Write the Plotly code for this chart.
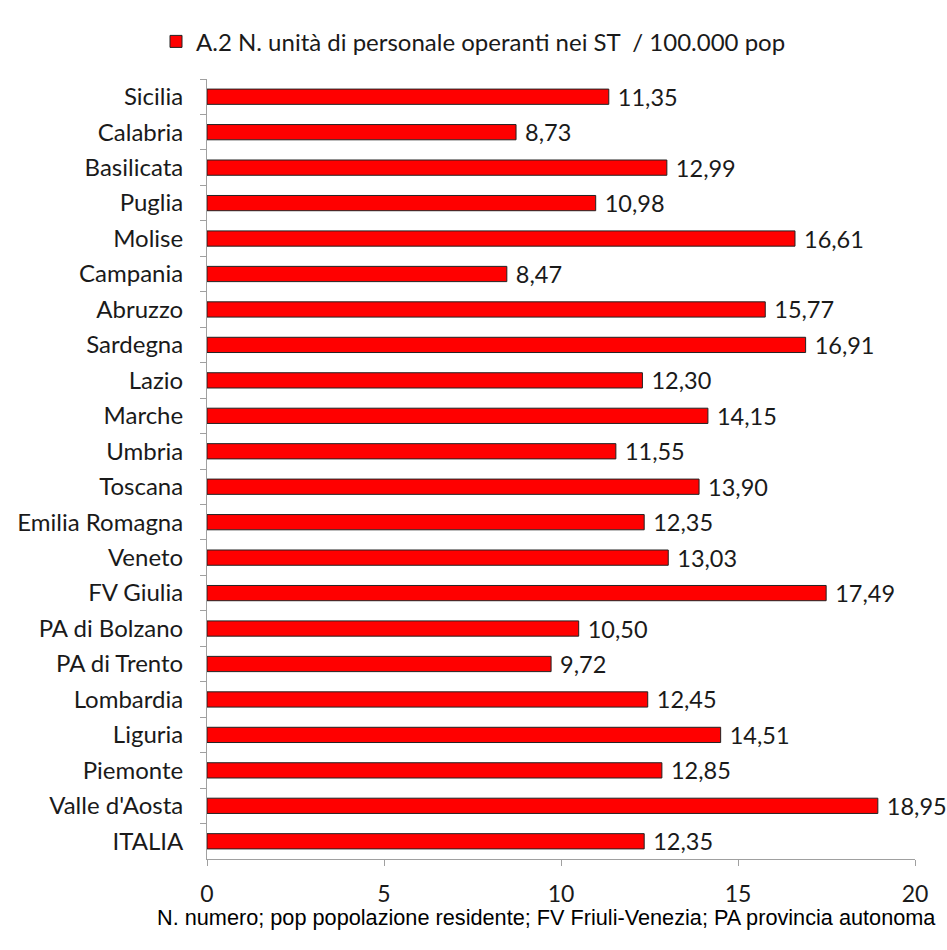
import plotly.graph_objects as go

regions = ["Sicilia", "Calabria", "Basilicata", "Puglia", "Molise", "Campania", "Abruzzo",
           "Sardegna", "Lazio", "Marche", "Umbria", "Toscana", "Emilia Romagna", "Veneto",
           "FV Giulia", "PA di Bolzano", "PA di Trento", "Lombardia", "Liguria", "Piemonte",
           "Valle d'Aosta", "ITALIA"]
values = [11.35, 8.73, 12.99, 10.98, 16.61, 8.47, 15.77, 16.91, 12.30, 14.15, 11.55, 13.90,
          12.35, 13.03, 17.49, 10.50, 9.72, 12.45, 14.51, 12.85, 18.95, 12.35]
series_name = "A.2 N. unità di personale operanti nei ST  / 100.000 pop"
x_ticks = [0, 5, 10, 15, 20]
footnote = "N. numero; pop popolazione residente; FV Friuli-Venezia; PA provincia autonoma"

labels = ["\u00a0" + f"{v:.2f}".replace(".", ",") for v in values]

FONT = "Lato"
TXT = "#1a1a1a"
AXC = "#a0a0a0"

fig = go.Figure(go.Bar(
    y=regions, x=values, orientation="h", name=series_name,
    marker=dict(color="#ff0000", line=dict(color="#222222", width=1)),
    width=0.43,
    text=labels, textposition="outside", cliponaxis=False, constraintext="none",
    textfont=dict(family=FONT, size=23.5, color=TXT),
    showlegend=True,
))

fig.update_layout(
    width=947, height=950,
    margin=dict(l=207, r=32, t=79, b=91),
    plot_bgcolor="white", paper_bgcolor="white",
    font=dict(family=FONT, size=24, color=TXT),
    legend=dict(orientation="h", x=0.5, xanchor="center", xref="container",
                y=0.956, yanchor="middle", yref="container",
                font=dict(family=FONT, size=24, color=TXT),
                itemwidth=30),
    xaxis=dict(range=[0, 20], tickvals=x_ticks, showgrid=False, zeroline=False,
               showline=True, linecolor=AXC, linewidth=1,
               ticks="outside", ticklen=6, tickcolor=AXC, ticklabelstandoff=8,
               tickfont=dict(family=FONT, size=23, color=TXT)),
    yaxis=dict(autorange="reversed", showline=True, linecolor=AXC, linewidth=1,
               ticks="outside", ticklen=6, tickcolor=AXC, tickson="boundaries",
               ticklabelstandoff=18,
               tickfont=dict(family=FONT, size=24, color=TXT), showgrid=False),
    annotations=[dict(text=footnote, x=1.0, xref="paper", xanchor="right", xshift=23,
                      y=-0.0756, yref="paper", yanchor="middle",
                      showarrow=False, font=dict(family="Liberation Sans", size=21.7, color="#000000"))],
)

fig.write_html("out.html")
